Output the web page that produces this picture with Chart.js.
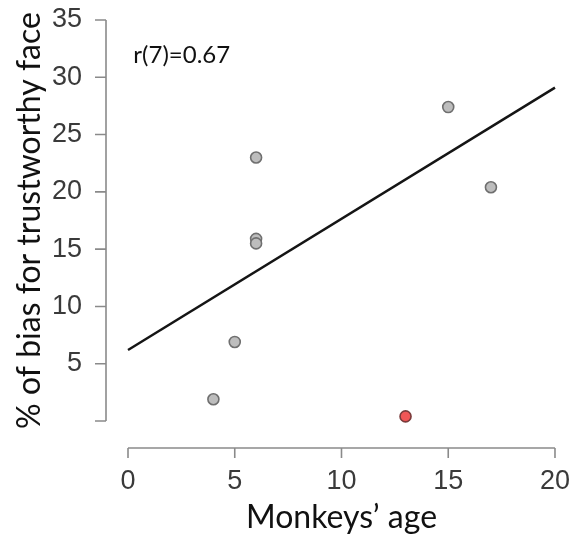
<!DOCTYPE html>
<html>
<head>
<meta charset="utf-8">
<script src="https://cdn.jsdelivr.net/npm/chart.js@4"></script>
<style>
    html, body { margin: 0; padding: 0; background: #fff; }
    #wrap { width: 572px; height: 539px; }
</style>
</head>
<body>
<div id="wrap"><canvas id="ageChart" width="572" height="539"></canvas></div>
<script>
// ============================================================
// DATA
// ============================================================
const ages = [4, 5, 6, 6, 6, 15, 17];
const biases = [1.9, 6.9, 23.0, 15.9, 15.5, 27.4, 20.4];
const outlierAges = [13];
const outlierBiases = [0.4];
const fitAges = [0, 20];
const fitBiases = [6.2, 29.1];
const xTicks = [0, 5, 10, 15, 20];
const yTicks = [0, 5, 10, 15, 20, 25, 30, 35];
const statText = 'r(7)=0.67';
const xTitle = 'Monkeys\u2019 age';
const yTitle = '% of bias for trustworthy face';

const toPoints = (xs, ys) => xs.map((x, i) => ({ x: x, y: ys[i] }));

// invisible tick marks: they only push the labels away from the plot area
const hiddenGrid = (len) => ({
    display: true,
    drawOnChartArea: false,
    drawTicks: true,
    tickLength: len,
    color: 'rgba(0,0,0,0)'
});

// ============================================================
// R-style detached axes + the r() annotation
// ============================================================
const detachedAxes = {
    id: 'detachedAxes',
    afterDraw(chart) {
        const { ctx, chartArea, scales: { x, y } } = chart;
        const axisX = chartArea.left - 22;
        const axisY = chartArea.bottom + 27;
        ctx.save();
        ctx.strokeStyle = '#8a8a8a';
        ctx.lineWidth = 1.6;
        ctx.beginPath();
        ctx.moveTo(axisX, y.getPixelForValue(yTicks[0]));
        ctx.lineTo(axisX, y.getPixelForValue(yTicks[yTicks.length - 1]));
        yTicks.forEach(v => {
            const py = y.getPixelForValue(v);
            ctx.moveTo(axisX, py);
            ctx.lineTo(axisX - 11, py);
        });
        ctx.moveTo(x.getPixelForValue(xTicks[0]), axisY);
        ctx.lineTo(x.getPixelForValue(xTicks[xTicks.length - 1]), axisY);
        xTicks.forEach(v => {
            const px = x.getPixelForValue(v);
            ctx.moveTo(px, axisY);
            ctx.lineTo(px, axisY + 10);
        });
        ctx.stroke();

        // r value
        ctx.fillStyle = '#111';
        ctx.font = '24px Lato';
        ctx.textAlign = 'left';
        ctx.textBaseline = 'alphabetic';
        ctx.fillText(statText, x.getPixelForValue(0.25), y.getPixelForValue(31.25));
        ctx.restore();
    }
};

// ============================================================
// CHART
// ============================================================
function initChart() {
    const ctx = document.getElementById('ageChart').getContext('2d');
    new Chart(ctx, {
        type: 'scatter',
        data: {
            datasets: [
                {
                    type: 'line',
                    data: toPoints(fitAges, fitBiases),
                    borderColor: '#151515',
                    borderWidth: 2.5,
                    pointRadius: 0,
                    fill: false,
                    clip: false,
                    order: 2
                },
                {
                    data: toPoints(ages, biases),
                    backgroundColor: '#bdbdbd',
                    borderColor: '#6f6f6f',
                    borderWidth: 1.6,
                    pointRadius: 5.5,
                    clip: false,
                    order: 1
                },
                {
                    data: toPoints(outlierAges, outlierBiases),
                    backgroundColor: '#f05656',
                    borderColor: '#7a3b3b',
                    borderWidth: 1.6,
                    pointRadius: 5.5,
                    clip: false,
                    order: 0
                }
            ]
        },
        options: {
            responsive: false,
            animation: false,
            layout: { padding: { left: 0, right: 16, top: 20, bottom: 0 } },
            plugins: {
                legend: { display: false },
                tooltip: { enabled: false }
            },
            scales: {
                x: {
                    type: 'linear',
                    min: xTicks[0],
                    max: xTicks[xTicks.length - 1],
                    afterFit: s => { s.height = 118; },
                    afterBuildTicks: s => { s.ticks = xTicks.map(v => ({ value: v })); },
                    grid: hiddenGrid(42),
                    border: { display: false },
                    ticks: {
                        padding: 2,
                        color: '#3a3a3a',
                        font: { family: 'Liberation Sans', size: 27 }
                    },
                    title: {
                        display: true,
                        text: xTitle,
                        color: '#111',
                        font: { family: 'Lato', size: 32 },
                        padding: { top: 0, bottom: 2 }
                    }
                },
                y: {
                    type: 'linear',
                    min: yTicks[0],
                    max: yTicks[yTicks.length - 1],
                    afterFit: s => { s.width = 128; },
                    afterBuildTicks: s => { s.ticks = yTicks.map(v => ({ value: v })); },
                    grid: hiddenGrid(43),
                    border: { display: false },
                    ticks: {
                        padding: 3,
                        color: '#3a3a3a',
                        font: { family: 'Liberation Sans', size: 27 },
                        callback: v => (v === 0 ? '' : v)
                    },
                    title: {
                        display: true,
                        text: yTitle,
                        color: '#111',
                        font: { family: 'Lato', size: 32 },
                        padding: { top: 10, bottom: 0 }
                    }
                }
            }
        },
        plugins: [detachedAxes]
    });
}

document.addEventListener('DOMContentLoaded', initChart);
</script>
</body>
</html>
